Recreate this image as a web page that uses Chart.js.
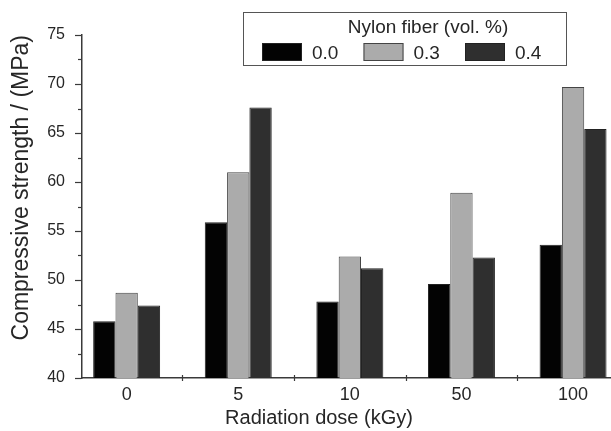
<!DOCTYPE html>
<html>
<head>
<meta charset="utf-8">
<script src="https://cdn.jsdelivr.net/npm/chart.js@4.4.1/dist/chart.umd.min.js"></script>
<style>
  html, body { margin: 0; padding: 0; background: #fff; overflow: hidden; }
  #wrap { width: 611px; height: 431px; position: relative; }
</style>
</head>
<body>
<div id="wrap"><canvas id="chart"></canvas></div>
<script>
// Data
const doses = ['0', '5', '10', '50', '100'];
const fiberLabels = ['0.0', '0.3', '0.4'];
const fiber00 = [45.8, 55.9, 47.8, 49.6, 53.6];
const fiber03 = [48.7, 61.0, 52.4, 58.9, 69.7];
const fiber04 = [47.4, 67.6, 51.2, 52.3, 65.4];
const yMin = 40, yMax = 75, yStep = 5;

const legendTitle = 'Nylon fiber (vol. %)';
const xTitle = 'Radiation dose (kGy)';
const yTitle = 'Compressive strength / (MPa)';

const FONT = '"Liberation Sans", Arial, Helvetica, sans-serif';
const TEXT = '#262626';
const AXIS = '#3a3a3a';

const toPoints = vals => vals.map((v, i) => ({ x: i, y: v }));

// minor ticks on y, little crossing ticks between groups on x, x title, legend box
const extras = {
  id: 'extras',
  afterDraw(chart) {
    const ctx = chart.ctx;
    const xs = chart.scales.x, ys = chart.scales.y;
    const area = chart.chartArea;
    ctx.save();
    ctx.strokeStyle = AXIS;
    ctx.lineWidth = 1.2;
    // y minor ticks
    for (let v = yMin + yStep / 2; v < yMax; v += yStep) {
      const py = Math.round(ys.getPixelForValue(v)) + 0.5;
      ctx.beginPath();
      ctx.moveTo(area.left - 4, py);
      ctx.lineTo(area.left, py);
      ctx.stroke();
    }
    // x separators between groups
    for (let i = 0; i < doses.length - 1; i++) {
      const px = Math.round(xs.getPixelForValue(i + 0.5)) + 0.5;
      ctx.beginPath();
      ctx.moveTo(px, area.bottom - 3);
      ctx.lineTo(px, area.bottom + 3);
      ctx.stroke();
    }

    // x axis title
    ctx.fillStyle = TEXT;
    ctx.font = '20px ' + FONT;
    ctx.textAlign = 'center';
    ctx.textBaseline = 'alphabetic';
    ctx.fillText(xTitle, 319, 424);

    // legend
    ctx.fillStyle = '#fff';
    ctx.fillRect(243, 12, 324, 54);
    ctx.strokeStyle = '#555';
    ctx.lineWidth = 1;
    ctx.strokeRect(243.5, 12.5, 323, 53);
    ctx.fillStyle = TEXT;
    ctx.font = '19px ' + FONT;
    ctx.fillText(legendTitle, 428, 33);
    ctx.textAlign = 'left';
    chart.data.datasets.forEach((ds, i) => {
      const x0 = 262 + i * 101.5;
      ctx.fillStyle = ds.backgroundColor;
      ctx.fillRect(x0, 43, 40, 18);
      ctx.strokeStyle = ds.borderColor;
      ctx.strokeRect(x0 + 0.5, 43.5, 39, 17);
      ctx.fillStyle = TEXT;
      ctx.fillText(ds.label, x0 + 50, 59);
    });
    ctx.restore();
  }
};

const ctx = document.getElementById('chart').getContext('2d');
new Chart(ctx, {
  type: 'bar',
  data: {
    datasets: [
      { label: fiberLabels[0], data: toPoints(fiber00), backgroundColor: '#030303', borderColor: '#222', borderWidth: 1 },
      { label: fiberLabels[1], data: toPoints(fiber03), backgroundColor: '#ababab', borderColor: '#444', borderWidth: 1 },
      { label: fiberLabels[2], data: toPoints(fiber04), backgroundColor: '#2f2f2f', borderColor: '#222', borderWidth: 1 }
    ]
  },
  options: {
    responsive: true,
    maintainAspectRatio: false,
    animation: false,
    layout: { padding: { top: 35, left: 0, right: 0, bottom: 0 } },
    datasets: { bar: { categoryPercentage: 0.6, barPercentage: 1 } },
    plugins: {
      legend: { display: false },
      tooltip: { enabled: false }
    },
    scales: {
      x: {
        type: 'linear',
        offset: false,
        min: -0.4,
        max: 4.34,
        afterBuildTicks: scale => { scale.ticks = doses.map((d, i) => ({ value: i })); },
        afterFit: scale => { scale.height = 53; },
        grid: { offset: false, drawOnChartArea: false, drawTicks: false },
        border: { color: AXIS, width: 1.5 },
        ticks: {
          callback: v => doses[v] ?? '',
          autoSkip: false,
          maxRotation: 0,
          padding: 6,
          color: TEXT,
          font: { family: FONT, size: 18 }
        }
      },
      y: {
        min: yMin,
        max: yMax,
        afterFit: scale => { scale.width = 82; },
        grid: { drawOnChartArea: false, tickLength: 7, tickColor: AXIS, tickWidth: 1.2 },
        border: { color: AXIS, width: 1.5 },
        ticks: { stepSize: yStep, padding: 10, color: TEXT, font: { family: FONT, size: 16 } },
        title: {
          display: true,
          text: yTitle,
          align: 'end',
          color: TEXT,
          padding: { top: 8, bottom: 0 },
          font: { family: FONT, size: 23 }
        }
      }
    }
  },
  plugins: [extras]
});
</script>
</body>
</html>
